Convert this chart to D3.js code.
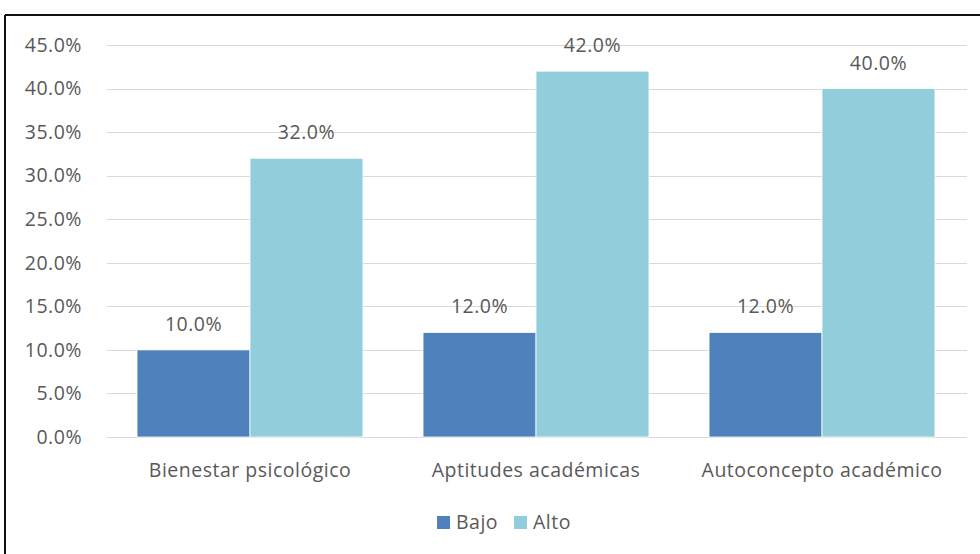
<!DOCTYPE html>
<html><head><meta charset="utf-8">
<script src="https://cdn.jsdelivr.net/npm/d3@7"></script>
<style>
html,body{margin:0;padding:0;background:#fff;}
svg{display:block;}
text{font-family:"Open Sans",sans-serif;fill:#595959;letter-spacing:0.5px;}
</style></head>
<body><svg id="c" width="980" height="554"></svg>
<script>
const categories = ["Bienestar psicológico", "Aptitudes académicas", "Autoconcepto académico"];
const seriesNames = ["Bajo", "Alto"];
const bajo = [10.0, 12.0, 12.0];
const alto = [32.0, 42.0, 40.0];
const yTicks = [0, 5, 10, 15, 20, 25, 30, 35, 40, 45];
const colors = ["#4F81BD", "#92CDDC"];
const FS = 19.5;

const svg = d3.select("#c");
// frame
svg.append("line").attr("x1",5).attr("x2",980).attr("y1",15).attr("y2",15).attr("stroke","#111").attr("stroke-width",2);
svg.append("line").attr("x1",5).attr("x2",5).attr("y1",15).attr("y2",554).attr("stroke","#111").attr("stroke-width",2);

const pLeft = 107, pRight = 965, pTop = 45, pBottom = 437;
const y = d3.scaleLinear().domain([0,45]).range([pBottom, pTop]);
const x0 = d3.scaleBand().domain(categories).range([pLeft, pRight]).paddingInner(0.21).paddingOuter(0.105);
const x1 = d3.scaleBand().domain(seriesNames).range([0, x0.bandwidth()]);

// gridlines
svg.append("g").selectAll("line").data(yTicks).join("line")
  .attr("x1", pLeft).attr("x2", 967)
  .attr("y1", d => Math.round(y(d))+0.5).attr("y2", d => Math.round(y(d))+0.5)
  .attr("stroke", "#d9d9d9").attr("stroke-width", 1);

// y axis labels
const yAxis = d3.axisLeft(y).tickValues(yTicks).tickFormat(d => d.toFixed(1) + "%").tickSize(0).tickPadding(0);
const ya = svg.append("g").attr("transform", "translate(82,0)").call(yAxis);
ya.select(".domain").remove();
ya.selectAll("text").attr("font-size", FS).attr("font-family", "Open Sans").attr("fill", "#595959");

const data = categories.map((c, i) => ({cat: c, vals: [bajo[i], alto[i]]}));

const g = svg.append("g").selectAll("g").data(data).join("g")
  .attr("transform", d => `translate(${x0(d.cat)},0)`);

g.selectAll("rect").data(d => d.vals.map((v, j) => ({v, s: seriesNames[j], j}))).join("rect")
  .attr("x", d => x1(d.s)).attr("width", x1.bandwidth())
  .attr("y", d => y(d.v)).attr("height", d => y(0) - y(d.v))
  .attr("fill", d => colors[d.j]).attr("stroke", "#fff").attr("stroke-width", 0.8);

g.selectAll("text.lbl").data(d => d.vals.map((v, j) => ({v, s: seriesNames[j], j}))).join("text")
  .attr("class", "lbl")
  .attr("x", d => x1(d.s) + x1.bandwidth()/2)
  .attr("y", d => y(d.v) - 19)
  .attr("text-anchor", "middle").attr("font-size", FS)
  .text(d => d.v.toFixed(1) + "%");

// x axis labels
const xAxis = d3.axisBottom(x0).tickSize(0).tickPadding(0);
const xa = svg.append("g").attr("transform", `translate(0,${pBottom})`).call(xAxis);
xa.select(".domain").remove();
xa.selectAll("text").attr("dy", null).attr("y", 40).attr("font-size", FS).attr("font-family", "Open Sans").attr("fill", "#595959");

// legend
const legX = [437, 514];
const lg = svg.append("g").selectAll("g").data(seriesNames).join("g")
  .attr("transform", (d, i) => `translate(${legX[i]},516)`);
lg.append("rect").attr("width", 13).attr("height", 13).attr("fill", (d, i) => colors[i]);
lg.append("text").attr("x", 19).attr("y", 13).attr("font-size", FS).text(d => d);
</script></body></html>
